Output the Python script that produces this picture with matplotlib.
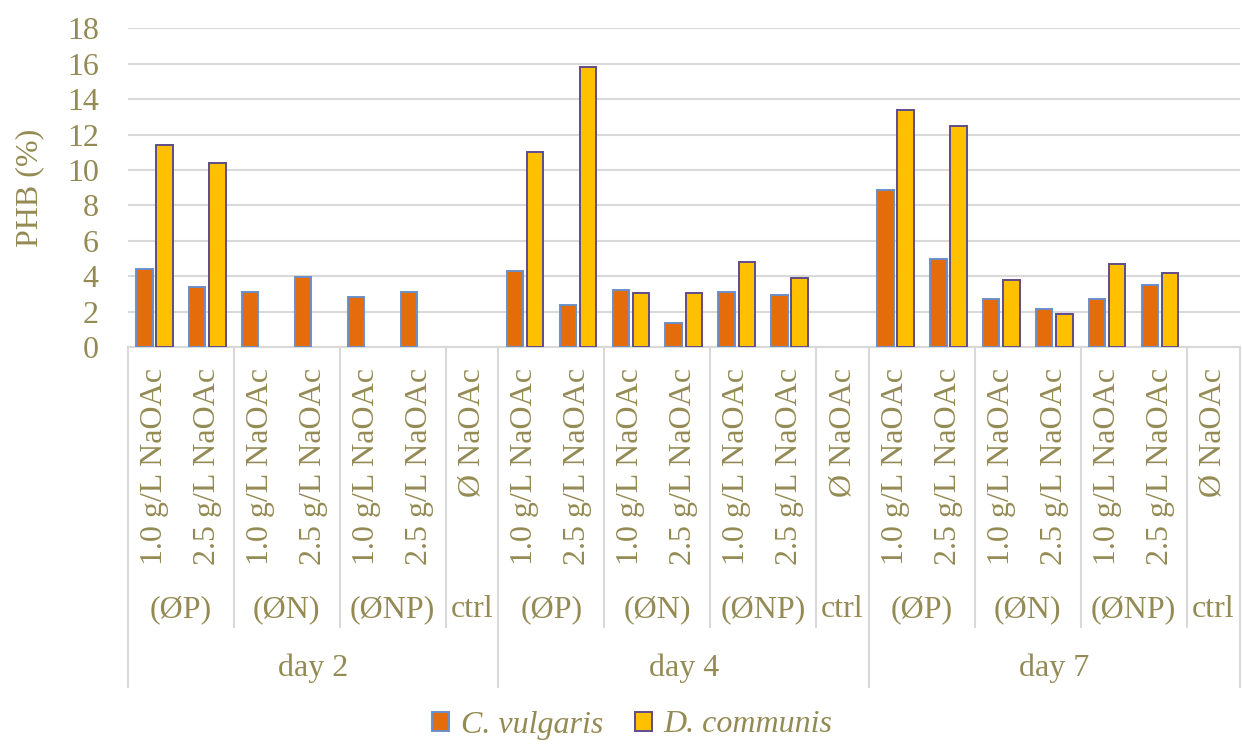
import numpy as np
import matplotlib.pyplot as plt
from matplotlib.patches import Patch

# PHB content per condition, three sampling days, seven slots each
days = ['day 2', 'day 4', 'day 7']
groups = ['(ØP)', '(ØN)', '(ØNP)', 'ctrl']
group_sizes = [2, 2, 2, 1]
conditions = ['1.0 g/L NaOAc', '2.5 g/L NaOAc'] * 3 + ['Ø NaOAc']

c_vulgaris = [4.44, 3.40, 3.12, 3.97, 2.82, 3.10, 0,
              4.31, 2.39, 3.20, 1.34, 3.10, 2.93, 0,
              8.88, 4.95, 2.73, 2.16, 2.71, 3.52, 0]
d_communis = [11.44, 10.42, 0, 0, 0, 0, 0,
              10.99, 15.82, 3.03, 3.07, 4.78, 3.93, 0,
              13.37, 12.47, 3.78, 1.86, 4.68, 4.16, 0]

txt = '#948A54'
grid = '#D9D9D9'
fs = 23
plt.rcParams['font.family'] = ['Liberation Serif', 'DejaVu Serif']

fig = plt.figure(figsize=(12.42, 7.45), dpi=100)
ax = fig.add_axes([0.103, 0.534, 0.895, 0.428])

x = np.arange(len(c_vulgaris))
cv = np.array(c_vulgaris, dtype=float)
dc = np.array(d_communis, dtype=float)
# empty cells in the sheet: draw nothing there
cv[cv == 0] = np.nan
dc[dc == 0] = np.nan
w = 0.31
ax.bar(x - 0.19, cv, w, color='#E46C0A', edgecolor='#6A8FC8', linewidth=1.4, zorder=3)
ax.bar(x + 0.19, dc, w, color='#FFC000', edgecolor='#5F4B8B', linewidth=1.4, zorder=3)

ax.set_xlim(-0.5, len(x) - 0.5)
ax.set_ylim(0, 18)
ax.set_yticks(range(0, 19, 2))
ax.yaxis.grid(True, color=grid, linewidth=1.5, zorder=0)
ax.set_xticks([])
for s in ['top', 'right', 'left']:
    ax.spines[s].set_visible(False)
ax.spines['bottom'].set_color(grid)
ax.spines['bottom'].set_linewidth(1.5)
ax.tick_params(axis='y', length=0, pad=21, labelsize=fs, labelcolor=txt)
ax.set_ylabel('PHB (%)', fontsize=fs, color=txt, labelpad=16)

trans = ax.get_xaxis_transform()
# condition labels (rotated)
for d in range(len(days)):
    for j, lab in enumerate(conditions):
        ax.text(d * 7 + j, -0.066, lab, rotation=90, ha='center', va='top',
                fontsize=fs, color=txt, transform=trans)
    start = d * 7
    for g, n in zip(groups, group_sizes):
        ax.text(start + (n - 1) / 2, -0.824, g, ha='center', va='center',
                fontsize=fs, color=txt, transform=trans)
        start += n
        if start < d * 7 + 7:
            ax.plot([start - 0.5] * 2, [0, -0.878], color=grid, lw=1.5,
                    transform=trans, clip_on=False)
    ax.text(d * 7 + 3, -1.006, days[d], ha='center', va='center',
            fontsize=fs, color=txt, transform=trans)

for b in range(len(days) + 1):
    ax.plot([b * 7 - 0.5] * 2, [0, -1.066], color=grid, lw=1.5,
            transform=trans, clip_on=False)

handles = [Patch(facecolor='#E46C0A', edgecolor='#6A8FC8', linewidth=1.4),
           Patch(facecolor='#FFC000', edgecolor='#5F4B8B', linewidth=1.4)]
leg = fig.legend(handles, ['C. vulgaris', 'D. communis'], loc='center',
                 bbox_to_anchor=(0.509, 1 - 725 / 745), ncol=2, frameon=False,
                 prop={'size': fs, 'style': 'italic'}, handlelength=0.55,
                 handleheight=0.55, handletextpad=0.35, columnspacing=1.0)
for t in leg.get_texts():
    t.set_color(txt)

fig.savefig('out.png', dpi=100)
